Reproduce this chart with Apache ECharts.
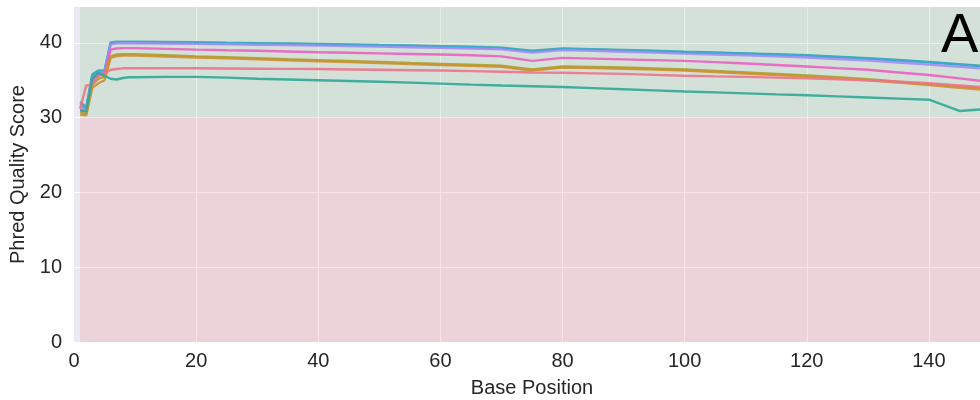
<!DOCTYPE html>
<html lang="en">
<head>
    <meta charset="UTF-8">
    <title>Per base quality</title>
    <script src="https://cdn.jsdelivr.net/npm/echarts@6/dist/echarts.min.js"></script>
    <style>
        html, body { margin: 0; padding: 0; background: #fff; }
        #main { width: 980px; height: 400px; }
    </style>
</head>
<body>
<div id="main"></div>
<script>
    // base positions (1-9 single, then binned every 5)
    const positions = [1, 2, 3, 4, 5, 6, 7, 8, 9, 10, 15, 20, 25, 30, 35, 40, 45, 50, 55, 60, 65, 70, 75,
        80, 85, 90, 95, 100, 105, 110, 115, 120, 125, 130, 135, 140, 145, 150];

    // mean phred score per sample
    const tealTop = [32.1, 31.4, 35.8, 36.3, 36.2, 40.05, 40.15, 40.15, 40.15, 40.15, 40.12, 40.08, 40.02, 39.97, 39.92,
        39.86, 39.8, 39.72, 39.65, 39.57, 39.48, 39.37, 38.95, 39.27, 39.17, 39.06, 38.95, 38.82, 38.72, 38.6, 38.48,
        38.35, 38.15, 37.95, 37.72, 37.45, 37.15, 36.85];
    const blue = [31.8, 31.2, 35.6, 36.2, 36.3, 40.0, 40.1, 40.1, 40.1, 40.05, 40.05, 40.0, 39.95, 39.9, 39.85,
        39.8, 39.72, 39.65, 39.58, 39.5, 39.42, 39.3, 38.85, 39.2, 39.1, 39.0, 38.88, 38.75, 38.65, 38.55, 38.42,
        38.3, 38.1, 37.9, 37.65, 37.4, 37.1, 36.8];
    const purple = [31.5, 31.0, 35.3, 36.0, 36.1, 39.8, 39.95, 39.95, 39.95, 39.95, 39.92, 39.87, 39.82, 39.76, 39.7,
        39.64, 39.57, 39.5, 39.42, 39.34, 39.25, 39.14, 38.7, 39.03, 38.93, 38.82, 38.7, 38.57, 38.45, 38.33, 38.2,
        38.05, 37.85, 37.63, 37.38, 37.1, 36.8, 36.5];
    const magenta = [31.0, 30.8, 35.0, 35.8, 35.9, 39.1, 39.25, 39.3, 39.3, 39.3, 39.2, 39.1, 39.02, 38.95, 38.85,
        38.75, 38.68, 38.6, 38.52, 38.45, 38.35, 38.2, 37.6, 38.0, 37.9, 37.8, 37.7, 37.6, 37.43, 37.25, 37.05,
        36.85, 36.62, 36.4, 36.05, 35.7, 35.25, 34.8];
    const olive = [30.7, 30.5, 34.5, 35.2, 35.5, 38.2, 38.45, 38.5, 38.5, 38.5, 38.35, 38.2, 38.08, 37.95, 37.82,
        37.7, 37.58, 37.45, 37.32, 37.2, 37.08, 36.95, 36.45, 36.85, 36.78, 36.7, 36.58, 36.45, 36.25, 36.05, 35.85,
        35.65, 35.4, 35.15, 34.82, 34.5, 34.15, 33.8];
    const orange = [30.4, 30.3, 34.0, 34.6, 35.0, 38.0, 38.25, 38.3, 38.3, 38.3, 38.18, 38.05, 37.93, 37.8, 37.68,
        37.55, 37.43, 37.3, 37.18, 37.05, 36.93, 36.8, 36.3, 36.7, 36.62, 36.55, 36.42, 36.3, 36.1, 35.9, 35.7,
        35.5, 35.25, 35.0, 34.7, 34.35, 34.0, 33.65];
    const salmon = [31.2, 34.3, 34.4, 35.6, 35.9, 36.4, 36.5, 36.6, 36.6, 36.6, 36.6, 36.6, 36.58, 36.55, 36.52,
        36.5, 36.45, 36.4, 36.35, 36.3, 36.22, 36.15, 36.05, 36.0, 35.93, 35.85, 35.72, 35.6, 35.52, 35.45, 35.35,
        35.25, 35.12, 35.0, 34.8, 34.6, 34.3, 34.0];
    const tealLow = [31.0, 30.8, 35.2, 36.0, 35.6, 35.2, 35.1, 35.3, 35.4, 35.4, 35.45, 35.45, 35.35, 35.2, 35.1,
        35.0, 34.9, 34.8, 34.68, 34.55, 34.42, 34.3, 34.2, 34.1, 33.95, 33.8, 33.65, 33.5, 33.38, 33.25, 33.12,
        33.0, 32.85, 32.7, 32.55, 32.4, 30.9, 31.2];

    const sampleData = [tealTop, blue, purple, magenta, olive, orange, salmon, tealLow];
    const sampleColors = ['#36ada4', '#39a7d0', '#a48cf4', '#ec5fc0', '#a9a02c', '#ce9032', '#f0728a', '#2fa896'];

    const xTicks = [0, 20, 40, 60, 80, 100, 120, 140];
    const yTicks = [0, 10, 20, 30, 40];
    const X_MAX = 150;
    const Y_MAX = 44.8;
    const PASS_LIMIT = 30;

    let myChart = echarts.init(document.getElementById('main'));

    let series = [{
        // quality bands
        type: 'line',
        data: [],
        silent: true,
        markArea: {
            silent: true,
            data: [
                [{xAxis: 1, yAxis: PASS_LIMIT, itemStyle: {color: 'rgba(119,189,122,0.2)'}}, {xAxis: X_MAX, yAxis: Y_MAX}],
                [{xAxis: 1, yAxis: 0, itemStyle: {color: 'rgba(244,114,122,0.2)'}}, {xAxis: X_MAX, yAxis: PASS_LIMIT}]
            ]
        }
    }];
    for (let i = 0; i < sampleData.length; i++) {
        series.push({
            name: 'sample ' + (i + 1),
            type: 'line',
            showSymbol: false,
            data: positions.map((p, j) => [p, sampleData[i][j]]),
            lineStyle: {width: 2.4, color: sampleColors[i], opacity: 0.9},
            itemStyle: {color: sampleColors[i]}
        });
    }

    let option = {
        animation: false,
        grid: {
            left: 74, right: -10, top: 7, bottom: 58,
            outerBoundsMode: 'none',
            show: true, backgroundColor: '#eaeaf2', borderWidth: 0
        },
        xAxis: {
            type: 'value', min: 0, max: X_MAX, interval: 20,
            name: 'Base Position', nameLocation: 'middle', nameGap: 36,
            nameTextStyle: {fontSize: 20, color: '#262626', fontFamily: 'Liberation Sans'},
            axisLine: {show: false}, axisTick: {show: false},
            axisLabel: {
                fontSize: 20, color: '#262626', fontFamily: 'Liberation Sans', margin: 9,
                showMaxLabel: false,
                formatter: v => xTicks.includes(v) ? String(v) : ''
            },
            splitLine: {lineStyle: {color: '#ffffff', width: 1}, showMinLine: false, showMaxLine: false}
        },
        yAxis: {
            type: 'value', min: 0, max: Y_MAX, interval: 10,
            name: 'Phred Quality Score', nameLocation: 'middle', nameGap: 45,
            nameTextStyle: {fontSize: 20, color: '#262626', fontFamily: 'Liberation Sans'},
            axisLine: {show: false}, axisTick: {show: false},
            axisLabel: {
                fontSize: 20, color: '#262626', fontFamily: 'Liberation Sans', margin: 12,
                showMaxLabel: false,
                formatter: v => yTicks.includes(v) ? String(v) : ''
            },
            splitLine: {lineStyle: {color: '#ffffff', width: 1}, showMinLine: false, showMaxLine: false}
        },
        graphic: [{
            type: 'text', left: 941, top: 9, z: 100,
            style: {text: 'A', fontSize: 56, fill: '#000', fontFamily: 'Liberation Sans'}
        }],
        series: series
    };

    myChart.setOption(option);
</script>
</body>
</html>
